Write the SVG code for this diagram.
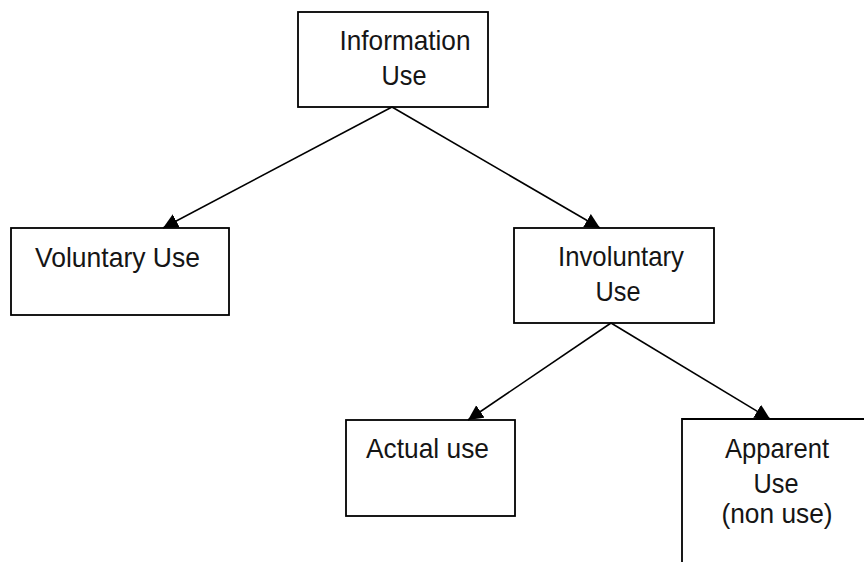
<svg xmlns="http://www.w3.org/2000/svg" width="864" height="562" viewBox="0 0 864 562">
<style>
.box{fill:#fff;stroke:#000;stroke-width:1.8}
.lbl{font-family:"Liberation Sans",Arial,sans-serif;font-size:28px;fill:#151515}
.mid{text-anchor:middle}
.conn line{stroke:#000;stroke-width:1.6}
</style>
<defs>
<marker id="ah" markerUnits="userSpaceOnUse" markerWidth="16" markerHeight="16" viewBox="0 0 16 16" refX="15" refY="8" orient="auto">
<path d="M0,0.5 L15,8 L0,15.5 Z" fill="#000"/>
</marker>
</defs>
<rect width="864" height="562" fill="#fff"/>
<g id="n-info">
<rect class="box" x="298" y="12" width="190" height="95"/>
<text class="lbl mid" x="405" y="50" textLength="131" lengthAdjust="spacingAndGlyphs">Information</text>
<text class="lbl mid" x="404" y="85" textLength="45" lengthAdjust="spacingAndGlyphs">Use</text>
</g>
<g id="n-vol">
<rect class="box" x="11" y="228" width="218" height="87"/>
<text class="lbl" x="35" y="267" textLength="165" lengthAdjust="spacingAndGlyphs">Voluntary Use</text>
</g>
<g id="n-invol">
<rect class="box" x="514" y="228" width="200" height="95"/>
<text class="lbl mid" x="621" y="266" textLength="126" lengthAdjust="spacingAndGlyphs">Involuntary</text>
<text class="lbl mid" x="618" y="301" textLength="45" lengthAdjust="spacingAndGlyphs">Use</text>
</g>
<g id="n-actual">
<rect class="box" x="346" y="420" width="169" height="96"/>
<text class="lbl" x="366" y="458" textLength="123" lengthAdjust="spacingAndGlyphs">Actual use</text>
</g>
<g id="n-apparent">
<path class="box" d="M682,562 L682,419 L866,419" fill="none"/>
<text class="lbl mid" x="777" y="458" textLength="104" lengthAdjust="spacingAndGlyphs">Apparent</text>
<text class="lbl mid" x="776" y="493" textLength="45" lengthAdjust="spacingAndGlyphs">Use</text>
<text class="lbl mid" x="777" y="523" textLength="111" lengthAdjust="spacingAndGlyphs">(non use)</text>
</g>
<g class="conn">
<line x1="392" y1="107" x2="163" y2="228" marker-end="url(#ah)"/>
<line x1="392" y1="107" x2="600" y2="228" marker-end="url(#ah)"/>
<line x1="611" y1="323" x2="468" y2="420" marker-end="url(#ah)"/>
<line x1="611" y1="323" x2="770" y2="419" marker-end="url(#ah)"/>
</g>
</svg>
